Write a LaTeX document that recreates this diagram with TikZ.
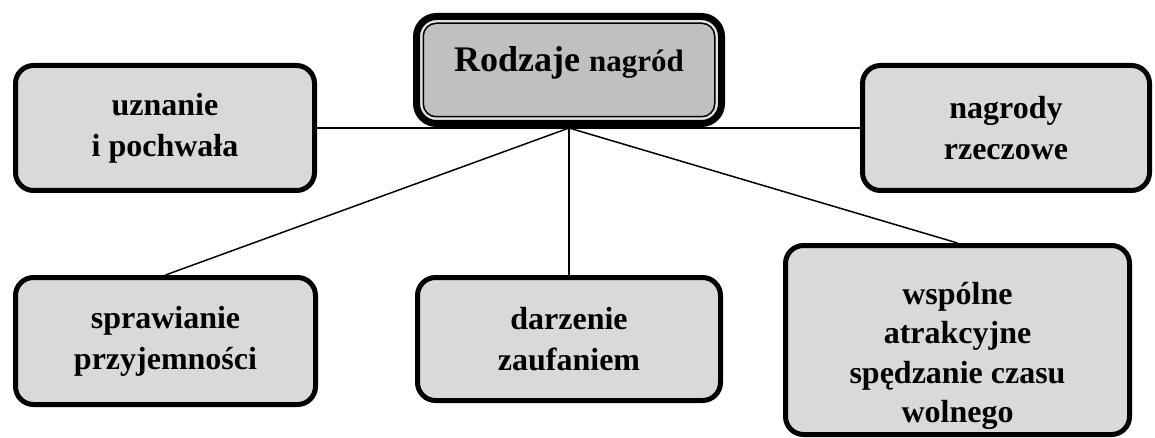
\documentclass[tikz,border=0pt]{standalone}
\usepackage{fontspec}
\setmainfont{Liberation Serif}
\definecolor{boxgray}{HTML}{D9D9D9}
\definecolor{topgray}{HTML}{C0C0C0}
\definecolor{gapgray}{HTML}{E4E4E4}
\begin{document}
\begin{tikzpicture}[x=1pt,y=-1pt,
  box/.style={draw=black, line width=5pt, fill=boxgray, rounded corners=18pt,
    align=center, font=\bfseries\fontsize{32}{41}\selectfont, inner sep=0pt},
  topbox/.style={draw=black, line width=7pt, fill=gapgray, rounded corners=20pt,
    align=center, inner sep=0pt,
    path picture={\draw[line width=1.5pt, fill=topgray, rounded corners=13pt]
      ([shift={(6.75,6.75)}]path picture bounding box.north west) rectangle
      ([shift={(-6.75,-6.75)}]path picture bounding box.south east);}},
  conn/.style={line width=1.5pt}]
\useasboundingbox (0,0) rectangle (1155,438);
\node[box, minimum width=299pt, minimum height=125pt] (uzn) at (165,128) {uznanie\\i pochwała};
\node[box, minimum width=287pt, minimum height=125pt] (nag) at (1006,128) {nagrody\\rzeczowe};
\node[box, minimum width=300pt, minimum height=127pt] (spr) at (165.5,341) {sprawianie\\przyjemności};
\node[box, minimum width=303pt, minimum height=123pt] (dar) at (569,339) {darzenie\\zaufaniem};
\node[box, minimum width=344pt, minimum height=189pt] (wsp) at (957.5,340) {};
\node[font=\bfseries\fontsize{32}{39.5}\selectfont, align=center, inner sep=0pt] (wspt) at (957.5,356) {wspólne\\atrakcyjne\\spędzanie czasu\\wolnego};
\coordinate (hub) at (569,128);
\draw[conn] (uzn.east) -- (nag.west);
\draw[conn] (hub) -- (spr.north);
\draw[conn] (hub) -- (dar.north);
\draw[conn] (hub) -- (wsp.north);
\node[topbox, minimum width=305pt, minimum height=107pt, text depth=22pt] (top) at (569,70)
  {\bfseries\fontsize{36}{42}\selectfont Rodzaje {\fontsize{31}{36}\selectfont nagród}};
\end{tikzpicture}
\end{document}
